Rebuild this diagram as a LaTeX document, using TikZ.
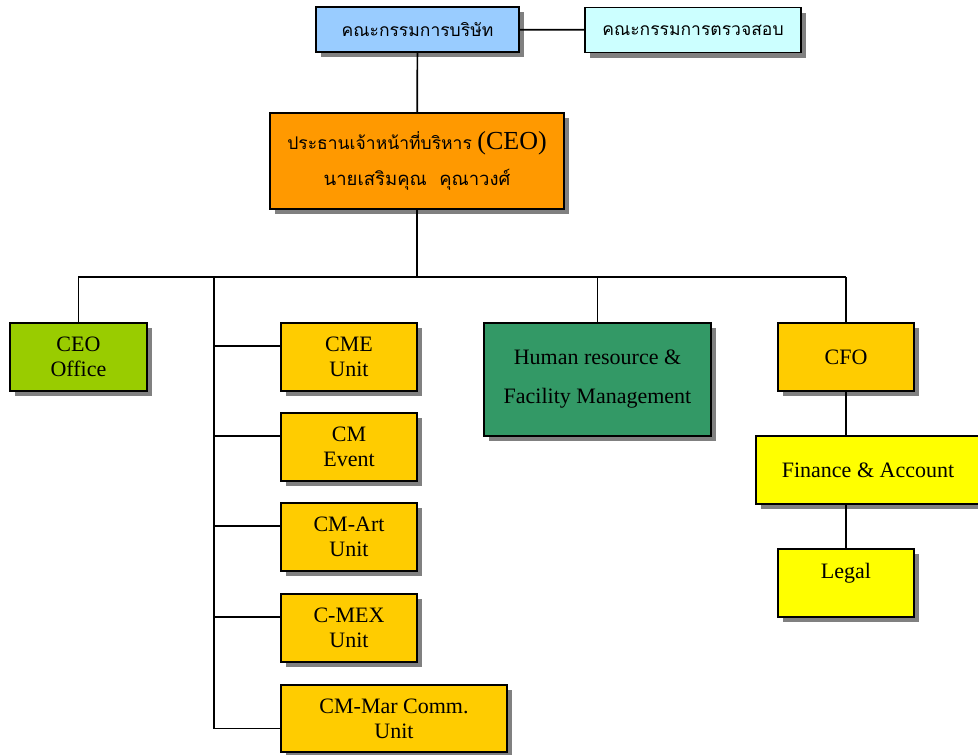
\documentclass[tikz,border=0pt]{standalone}
\usepackage{fontspec}
\setmainfont{Liberation Serif}
\newfontfamily\thaifont[Script=Thai]{Loma}
\usepackage{tikz}
\usetikzlibrary{shadows}

\definecolor{boardblue}{HTML}{99CCFF}
\definecolor{auditcyan}{HTML}{CCFFFF}
\definecolor{ceoorange}{HTML}{FF9900}
\definecolor{officegreen}{HTML}{99CC00}
\definecolor{unitgold}{HTML}{FFCC00}
\definecolor{hrgreen}{HTML}{339966}
\definecolor{finyellow}{HTML}{FFFF00}

\begin{document}
\begin{tikzpicture}[x=1pt,y=-1pt
	,line width=1.7pt
	,font=\fontsize{22}{25}\selectfont]
  \tikzstyle{box}=[draw,line width=1.4pt,align=center,inner sep=0pt
    ,general shadow={fill=black!50,shadow xshift=5pt,shadow yshift=-5pt}]
  \tikzstyle{unit}=[box,fill=unitgold,minimum width=136pt,minimum height=68pt]
  \tikzstyle{thai}=[font=\thaifont\fontsize{17.5}{20}\selectfont]

  \useasboundingbox (0,0) rectangle (978,755);

  % board row
  \node[box,thai,fill=boardblue,minimum width=203pt,minimum height=45pt]
    (board) at (417.5,29.5) {คณะกรรมการบริษัท};
  \node[box,thai,fill=auditcyan,minimum width=216pt,minimum height=45pt]
    (audit) at (693,30) {คณะกรรมการตรวจสอบ};
  % ceo
  \node[box,fill=ceoorange,minimum width=294pt,minimum height=96pt]
    (ceo) at (417,161) {{\thaifont\fontsize{17.5}{22}\selectfont ประธานเจ้าหน้าที่บริหาร}
    {\fontsize{26}{28}\selectfont (CEO)}\\[11pt]
    {\thaifont\fontsize{18.5}{22}\selectfont นายเสริมคุณ~~คุณาวงศ์}};
  % second level
  \node[box,fill=officegreen,minimum width=137pt,minimum height=68pt]
    (ceooff) at (78.5,357) {CEO\\Office};
  \node[unit] (cme)     at (349,357) {CME\\Unit};
  \node[unit] (cmevent) at (349,447) {CM\\Event};
  \node[unit] (cmart)   at (349,537) {CM-Art\\Unit};
  \node[unit] (cmex)    at (349,628) {C-MEX\\Unit};
  \node[unit,minimum width=226pt,minimum height=67pt]
    (cmmar) at (394,718.5) {CM-Mar Comm.\\Unit};
  \node[box,fill=hrgreen,minimum width=227pt,minimum height=113pt]
    (hr) at (597.5,379.5) {Human resource \&\\[14pt]Facility Management};
  \node[unit] (cfo) at (846,357) {CFO};
  \node[box,fill=finyellow,minimum width=224pt,minimum height=68pt]
    (fin) at (868,470) {Finance \& Account};
  \node[box,fill=finyellow,minimum width=136pt,minimum height=68pt]
    (legal) at (846,583) {Legal\\~};

  % bus and spine
  \coordinate (busR)  at (846,277);
  \coordinate (spine) at (214,277);

  \draw (board) -- (audit);
  \draw (board) -- (ceo);
  \draw (ceo.south) -- (ceo.south |- busR);
  \draw (ceooff.north) |- (busR);
  \draw (hr.north) |- (busR);
  \draw (busR) -- (cfo.north);
  \foreach \u in {cme,cmevent,cmart,cmex}
    \draw (spine) |- ([yshift=11pt]\u.west);
  \draw (spine) |- ([yshift=-10pt]cmmar.west);
  \draw (cfo.south) -- (cfo.south |- fin.north);
  \draw (legal.north |- fin.south) -- (legal.north);
\end{tikzpicture}
\end{document}
